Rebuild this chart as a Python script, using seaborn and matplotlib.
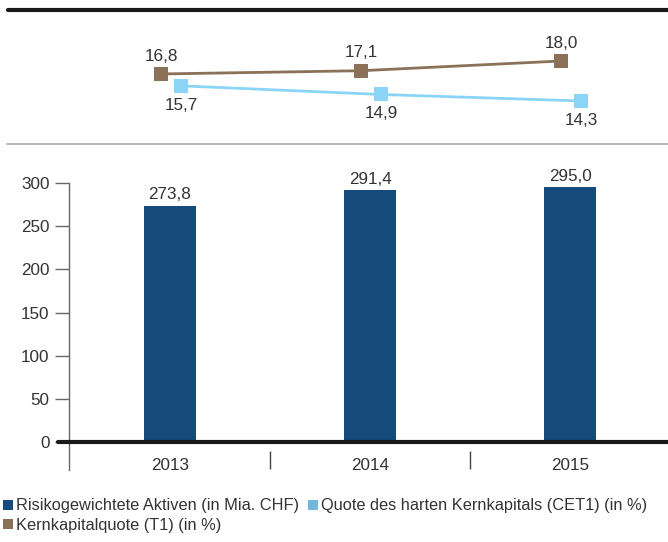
import matplotlib
matplotlib.use("Agg")
import matplotlib.pyplot as plt
import seaborn as sns
import pandas as pd
from matplotlib.lines import Line2D

sns.set_theme(style="white")
plt.rcParams["font.family"] = ["Liberation Sans", "DejaVu Sans"]

years = ["2013", "2014", "2015"]
rwa = [273.8, 291.4, 295.0]
cet1 = [15.7, 14.9, 14.3]
t1 = [16.8, 17.1, 18.0]
series_names = ["Risikogewichtete Aktiven (in Mia. CHF)",
                "Quote des harten Kernkapitals (CET1) (in %)",
                "Kernkapitalquote (T1) (in %)"]

def fmt(v):
    return f"{v:.1f}".replace(".", ",")

c_bar = "#174a7c"
c_cet1 = "#8ad5f7"
c_t1 = "#8b7158"
c_leg_cet1 = "#72b8dc"
txt = "#333333"
fs = 12.3

W, H = 668, 542
fig = plt.figure(figsize=(W / 100, H / 100), dpi=100)

xl = (-0.505, 2.49)
ax_l = 69 / W
ax_w = (W - 69) / W

# ---- bar axes ----
ybot_px, ytop_px = 470, 183
axb = fig.add_axes([ax_l, 1 - ybot_px / H, ax_w, (ybot_px - ytop_px) / H])
df = pd.DataFrame({"year": years, "rwa": rwa})
ymin = -32.4
sns.barplot(data=df, x="year", y="rwa", color=c_bar, width=0.26, ax=axb,
            saturation=1, edgecolor="none")
axb.set_xlim(*xl)
axb.set_ylim(ymin, 300)
for s in ["top", "right", "bottom"]:
    axb.spines[s].set_visible(False)
axb.spines["left"].set_color("#666666")
axb.spines["left"].set_linewidth(1.0)
axb.spines["left"].set_bounds(ymin, 300)
axb.set_yticks([0, 50, 100, 150, 200, 250, 300])
axb.tick_params(axis="y", direction="out", length=10, width=1, color="#666666",
                labelsize=fs, labelcolor=txt, pad=4, left=True)
axb.set_xticks([])
axb.set_xlabel("")
axb.set_ylabel("")
axb.axhline(0, xmin=-0.018, xmax=1, color="#1a1a1a", lw=3, clip_on=False, zorder=5)
for i, (y, v) in enumerate(zip(years, rwa)):
    axb.annotate(fmt(v), (i, v), xytext=(0, 2.5), textcoords="offset points",
                 ha="center", va="bottom", fontsize=fs, color=txt)
    axb.text(i, -27, y, ha="center", va="center", fontsize=fs, color=txt)
axb.vlines([0.5, 1.5], -10.5, -31, color="#444444", lw=1)

# ---- line axes ----
lt_px, lb_px = 20, 136
axl = fig.add_axes([ax_l, 1 - lb_px / H, ax_w, (lb_px - lt_px) / H])
axl.set_xlim(*xl)
px_per = 10.8
yc = 18.0 + (61 - lt_px) / px_per
axl.set_ylim(yc - (lb_px - lt_px) / px_per, yc)
axl.axis("off")
xs = list(range(len(years)))
dfl = pd.DataFrame({"x": xs, "t1": t1, "cet1": cet1})
dfl["xt1"] = dfl["x"] - 0.045
dfl["xcet1"] = dfl["x"] + 0.055
sns.lineplot(data=dfl, x="xt1", y="t1", color=c_t1, lw=2.0, marker="s",
             markersize=9.5, markeredgewidth=0, ax=axl)
sns.lineplot(data=dfl, x="xcet1", y="cet1", color=c_cet1, lw=2.0, marker="s",
             markersize=9.5, markeredgewidth=0, ax=axl)
axl.set_xlim(*xl)
axl.set_ylim(yc - (lb_px - lt_px) / px_per, yc)
for i in xs:
    axl.annotate(fmt(t1[i]), (dfl["xt1"][i], t1[i]), xytext=(0, 7.5), textcoords="offset points",
                 ha="center", va="bottom", fontsize=fs, color=txt)
    axl.annotate(fmt(cet1[i]), (dfl["xcet1"][i], cet1[i]), xytext=(0, -8.5), textcoords="offset points",
                 ha="center", va="top", fontsize=fs, color=txt)

# separator lines
fig.add_artist(Line2D([8 / W, 1], [1 - 10 / H] * 2, color="#1a1a1a", lw=3))
fig.add_artist(Line2D([7 / W, 1], [1 - 144 / H] * 2, color="#b5aca8", lw=1.3))

# legend (column-wise fill: bar, T1 in column 1; CET1 in column 2)
order = [0, 2, 1]
colors = [c_bar, c_leg_cet1, c_t1]
handles = [Line2D([], [], ls="none", marker="s", markersize=7, color=colors[k], markeredgewidth=0)
           for k in order]
labels = [series_names[k] for k in order]
fig.legend(handles, labels, ncol=2, loc="upper left",
           bbox_to_anchor=(0.0, 1 - 495 / H), frameon=False, fontsize=fs - 0.5,
           handlelength=0.6, handletextpad=0.15, columnspacing=0.6,
           labelspacing=0.3, borderaxespad=0, borderpad=0.2,
           labelcolor=txt)

fig.savefig("out.png", dpi=100)
